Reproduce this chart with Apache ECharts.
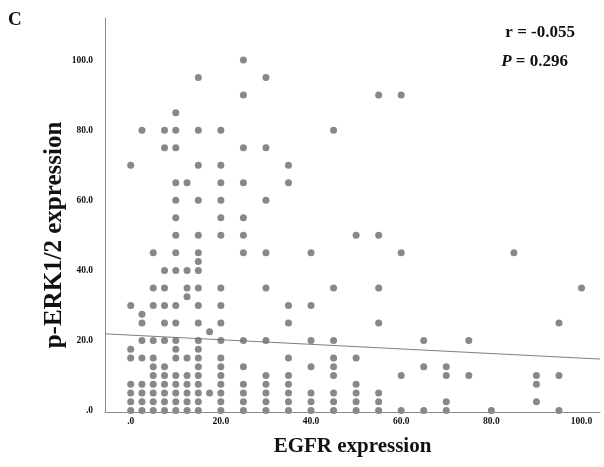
<!DOCTYPE html>
<html>
<head>
<meta charset="utf-8">
<script src="https://cdn.jsdelivr.net/npm/echarts@6/dist/echarts.min.js"></script>
<style>
html,body{margin:0;padding:0;background:#fff;}
#c{width:604px;height:467px;}
</style>
</head>
<body>
<div id="c"></div>
<script>
// EGFR expression levels (x) and the p-ERK1/2 values observed at each level (y)
const egfrLevels = [0, 2.5, 5, 7.5, 10, 12.5, 15, 17.5, 20, 25, 30, 35, 40, 45, 50, 55, 60, 65, 70, 75, 80, 85, 90, 95, 100];
const perkByEgfr = [
  [70, 30, 17.5, 15, 7.5, 5, 2.5, 0],
  [80, 27.5, 25, 20, 15, 7.5, 5, 2.5, 0],
  [45, 35, 30, 20, 15, 12.5, 10, 7.5, 5, 2.5, 0],
  [80, 75, 40, 35, 30, 25, 20, 12.5, 10, 7.5, 5, 2.5, 0],
  [85, 80, 75, 65, 60, 55, 50, 45, 40, 30, 25, 20, 17.5, 15, 10, 7.5, 5, 2.5, 0],
  [65, 40, 35, 32.5, 15, 10, 7.5, 5, 2.5, 0],
  [95, 80, 70, 60, 50, 45, 42.5, 40, 35, 30, 25, 20, 17.5, 15, 12.5, 10, 7.5, 5, 2.5, 0],
  [22.5, 5],
  [80, 70, 65, 60, 55, 50, 35, 30, 25, 20, 15, 12.5, 10, 7.5, 5, 2.5, 0],
  [100, 90, 75, 65, 55, 50, 45, 20, 12.5, 7.5, 5, 2.5, 0],
  [95, 75, 60, 45, 35, 20, 10, 7.5, 5, 2.5, 0],
  [70, 65, 30, 25, 15, 10, 7.5, 5, 2.5, 0],
  [45, 30, 20, 12.5, 5, 2.5, 0],
  [80, 35, 20, 15, 12.5, 10, 5, 2.5, 0],
  [50, 15, 7.5, 5, 2.5, 0],
  [90, 50, 35, 25, 5, 2.5, 0],
  [90, 45, 10, 0],
  [20, 12.5, 0],
  [12.5, 10, 2.5, 0],
  [20, 10],
  [0],
  [45],
  [10, 7.5, 2.5],
  [25, 10, 0],
  [35]
];
// fit line end points (at the axis ends)
const fitX = [-5.7, 104.1];
const fitY = [21.9, 14.7];
// axis ticks
const xTickValues = [0, 20, 40, 60, 80, 100];
const xTickLabels = ['.0', '20.0', '40.0', '60.0', '80.0', '100.0'];
const yTickValues = [0, 20, 40, 60, 80, 100];
const yTickLabels = ['.0', '20.0', '40.0', '60.0', '80.0', '100.0'];
const statR = 'r = -0.055';
const statP = '0.296';

const points = [];
egfrLevels.forEach((x, i) => perkByEgfr[i].forEach(y => points.push([x, y])));

const serif = '"Liberation Serif", "Times New Roman", serif';
const labelStyle = {fontFamily: serif, fontWeight: 'bold', fontSize: 9.5, color: '#111'};

const chart = echarts.init(document.getElementById('c'), null, {renderer: 'canvas'});
chart.setOption({
  animation: false,
  backgroundColor: '#fff',
  grid: {left: 105, right: 4, top: 18, bottom: 55, containLabel: false, outerBoundsMode: 'none'},
  xAxis: {
    type: 'value', min: fitX[0], max: fitX[1], z: 5,
    name: 'EGFR expression', nameLocation: 'middle', nameGap: 24,
    nameTextStyle: {fontFamily: serif, fontWeight: 'bold', fontSize: 21, color: '#111'},
    axisLine: {show: true, onZero: false, lineStyle: {color: '#8a8a8a', width: 1}},
    axisTick: {show: false},
    splitLine: {show: false},
    axisLabel: Object.assign({
      customValues: xTickValues, margin: 5,
      formatter: v => xTickLabels[xTickValues.indexOf(v)]
    }, labelStyle)
  },
  yAxis: {
    type: 'value', min: -0.4, max: 112,
    axisLine: {show: true, onZero: false, lineStyle: {color: '#8a8a8a', width: 1}},
    axisTick: {show: false},
    splitLine: {show: false},
    axisLabel: Object.assign({
      customValues: yTickValues, margin: 12,
      formatter: v => yTickLabels[yTickValues.indexOf(v)]
    }, labelStyle)
  },
  series: [
    {
      type: 'scatter', data: points, symbolSize: 7,
      itemStyle: {color: '#6a6a6a'}, z: 3
    },
    {
      type: 'line', data: fitX.map((x, i) => [x, fitY[i]]),
      symbol: 'none', lineStyle: {color: '#808080', width: 1}, z: 2
    }
  ],
  graphic: [
    {type: 'text', left: 8, top: 11, style: {text: 'C', font: 'bold 19px ' + serif, fill: '#111'}},
    {type: 'text', x: 55, y: 235, rotation: Math.PI / 2,
     style: {text: 'p-ERK1/2 expression', font: 'bold 25px ' + serif, fill: '#111', align: 'center', verticalAlign: 'middle'}},
    {type: 'text', x: 575, y: 33,
     style: {text: statR, font: 'bold 17px ' + serif, fill: '#111', align: 'right', verticalAlign: 'middle'}},
    {type: 'text', x: 568, y: 62,
     style: {text: '{i|P} = ' + statP, font: 'bold 17px ' + serif, fill: '#111', align: 'right', verticalAlign: 'middle',
       rich: {i: {font: 'italic bold 17px ' + serif, fill: '#111'}}}}
  ]
});
</script>
</body>
</html>
